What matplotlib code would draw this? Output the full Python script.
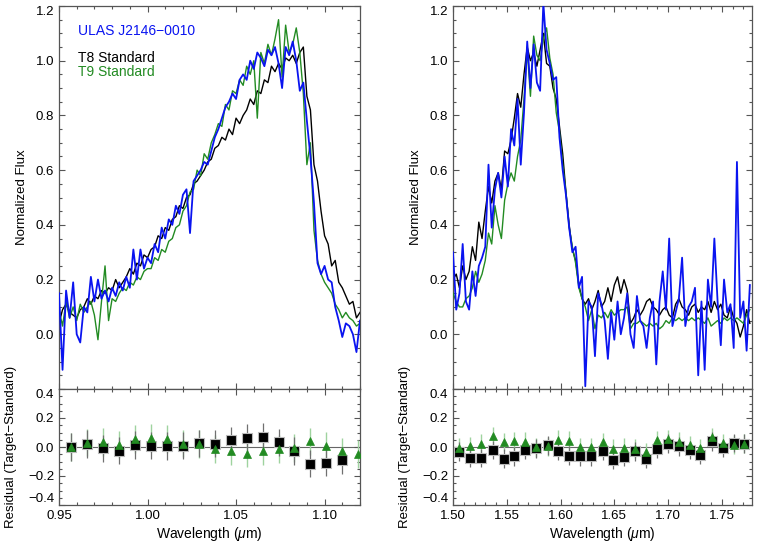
import numpy as np
import matplotlib
matplotlib.use("Agg")
import matplotlib.pyplot as plt
from matplotlib.ticker import MultipleLocator, FormatStrFormatter

plt.rcParams['font.family'] = ['Liberation Sans', 'DejaVu Sans']
plt.rcParams['mathtext.fontset'] = 'custom'
plt.rcParams['mathtext.rm'] = 'Liberation Sans'
plt.rcParams['mathtext.it'] = 'Liberation Sans:italic'

# ---------------- data: left panel (0.95-1.12 um) ----------------
wl_left_start, wl_left_step = 0.950, 0.002
target_left = [0.15, -0.13, 0.16, 0.06, 0.19, 0.00, -0.03, 0.10, 0.08, 0.21,
               0.12, 0.20, 0.13, 0.16, 0.12, 0.17, 0.14, 0.19, 0.16, 0.21,
               0.17, 0.31, 0.20, 0.31, 0.24, 0.28, 0.26, 0.33, 0.30, 0.39,
               0.35, 0.42, 0.40, 0.47, 0.44, 0.51, 0.53, 0.37, 0.56, 0.58,
               0.60, 0.63, 0.62, 0.67, 0.72, 0.75, 0.79, 0.83, 0.85, 0.88,
               0.86, 0.93, 0.95, 0.93, 1.00, 0.97, 1.03, 1.01, 0.98, 1.04,
               1.02, 1.05, 0.99, 0.90, 1.05, 1.02, 1.07, 1.00, 0.89, 0.92,
               0.78, 0.65, 0.48, 0.26, 0.22, 0.25, 0.20, 0.19, 0.10, 0.05,
               -0.01, 0.04, 0.03, 0.00, -0.065, 0.05]
t8_left = [0.04, 0.09, 0.11, 0.08, 0.07, 0.06, 0.09, 0.10, 0.13, 0.11,
           0.14, 0.13, 0.16, 0.15, 0.17, 0.16, 0.20, 0.17, 0.19, 0.21,
           0.24, 0.22, 0.26, 0.25, 0.29, 0.28, 0.31, 0.32, 0.36, 0.35,
           0.39, 0.38, 0.42, 0.43, 0.47, 0.46, 0.50, 0.51, 0.55, 0.56,
           0.58, 0.60, 0.63, 0.64, 0.68, 0.69, 0.72, 0.71, 0.75, 0.73,
           0.79, 0.77, 0.80, 0.82, 0.86, 0.84, 0.89, 0.88, 0.93, 0.92,
           0.98, 0.96, 0.99, 0.97, 1.01, 1.00, 1.02, 0.99, 1.03, 1.05,
           0.87, 0.82, 0.62, 0.56, 0.45, 0.36, 0.33, 0.25, 0.27, 0.19,
           0.17, 0.14, 0.11, 0.12, 0.06, 0.08]
t9_left = [0.09, 0.03, 0.12, 0.06, 0.10, 0.05, 0.11, 0.08, 0.10, 0.12,
           0.07, -0.02, 0.12, 0.25, 0.05, 0.13, 0.12, 0.15, 0.17, 0.16,
           0.19, 0.18, 0.21, 0.20, 0.23, 0.24, 0.24, 0.28, 0.27, 0.31,
           0.30, 0.34, 0.35, 0.39, 0.40, 0.45, 0.47, 0.52, 0.53, 0.60,
           0.58, 0.66, 0.64, 0.70, 0.73, 0.77, 0.76, 0.84, 0.82, 0.89,
           0.88, 0.93, 0.91, 0.98, 0.95, 1.00, 0.79, 1.03, 0.99, 1.06,
           1.02, 1.08, 1.15, 0.94, 1.13, 1.03, 1.06, 1.12, 1.03, 0.88,
           0.62, 0.70, 0.38, 0.27, 0.22, 0.19, 0.17, 0.15, 0.11, 0.09,
           0.06, 0.08, 0.06, 0.05, 0.03, 0.04]

# ---------------- data: right panel (1.50-1.78 um) ----------------
wl_right_start, wl_right_step = 1.500, 0.003
target_right = [0.30, 0.09, 0.15, 0.33, 0.12, 0.09, 0.23, 0.14, 0.25, 0.28,
                0.32, 0.62, 0.39, 0.53, 0.59, 0.50, 0.65, 0.54, 0.75, 0.69,
                0.86, 0.62, 0.81, 1.07, 0.90, 1.06, 0.92, 0.89, 1.21, 1.04,
                0.99, 0.93, 0.94, 0.72, 0.60, 0.51, 0.39, 0.30, 0.32, 0.17,
                0.21, -0.19, 0.12, 0.10, -0.08, 0.15, 0.11, 0.05, -0.09, 0.08,
                -0.02, 0.12, 0.00, 0.06, 0.15, 0.00, -0.05, 0.14, 0.05, 0.03,
                -0.05, 0.06, 0.12, -0.11, 0.12, 0.23, 0.09, 0.35, 0.03, 0.08,
                0.13, 0.28, 0.03, 0.10, 0.12, 0.17, -0.15, 0.12, -0.13, 0.20,
                0.10, 0.35, 0.12, -0.04, 0.20, 0.08, 0.11, -0.05, 0.63, 0.06,
                0.12, -0.06, 0.18]
t8_right = [0.20, 0.22, 0.17, 0.25, 0.20, 0.23, 0.32, 0.27, 0.41, 0.35,
            0.45, 0.54, 0.48, 0.56, 0.59, 0.53, 0.67, 0.66, 0.71, 0.79,
            0.88, 0.83, 0.95, 1.05, 1.00, 1.03, 0.98, 1.04, 1.10, 0.99,
            0.98, 0.90, 0.86, 0.76, 0.66, 0.52, 0.40, 0.31, 0.27, 0.18,
            0.13, 0.11, 0.13, 0.09, 0.12, 0.16, 0.10, 0.12, 0.17, 0.12,
            0.18, 0.21, 0.15, 0.20, 0.16, 0.04, 0.06, 0.09, 0.07, 0.09,
            0.12, 0.13, 0.10, 0.09, 0.07, 0.09, 0.10, 0.07, 0.06, 0.11,
            0.13, 0.10, 0.09, 0.07, 0.10, 0.11, 0.08, 0.10, 0.09, 0.12,
            0.08, 0.12, 0.09, 0.11, 0.07, 0.06, 0.10, 0.06, 0.04, -0.01,
            0.03, 0.09, 0.04]
t9_right = [0.15, 0.12, 0.10, 0.10, 0.13, 0.14, 0.17, 0.23, 0.19, 0.22,
            0.27, 0.37, 0.33, 0.47, 0.40, 0.35, 0.49, 0.55, 0.59, 0.56,
            0.65, 0.71, 0.86, 1.04, 0.87, 1.09, 1.02, 1.00, 1.08, 1.12,
            1.01, 0.95, 0.81, 0.74, 0.62, 0.52, 0.39, 0.32, 0.26, 0.17,
            0.13, 0.10, 0.05, 0.09, 0.02, 0.07, 0.06, 0.08, 0.06, 0.09,
            0.07, 0.08, 0.09, 0.09, 0.10, 0.02, 0.04, 0.04, 0.05, 0.04,
            0.03, 0.04, 0.03, 0.04, 0.02, 0.03, 0.05, 0.04, 0.06, 0.05,
            0.06, 0.05, 0.06, 0.05, 0.06, 0.05, 0.06, 0.05, 0.04, 0.06,
            0.03, 0.04, 0.05, 0.04, 0.06, 0.05, 0.06, 0.05, 0.06, 0.05,
            0.04, 0.07, 0.09]

# ---------------- residuals ----------------
res_wl_left = [0.957, 0.966, 0.975, 0.984, 0.993, 1.002, 1.011, 1.020, 1.029, 1.038,
               1.047, 1.056, 1.065, 1.074, 1.083, 1.092, 1.101, 1.110, 1.119]
res_t8_left = [0.00, 0.02, -0.01, -0.025, 0.015, 0.01, 0.007, 0.01, 0.025, 0.023,
               0.046, 0.062, 0.069, 0.032, -0.028, -0.115, -0.108, -0.092, np.nan]
res_t9_left = [0.00, 0.03, 0.035, 0.016, 0.057, 0.062, 0.057, 0.023, 0.02, -0.012,
               -0.028, -0.046, -0.03, -0.014, -0.005, 0.039, 0.01, -0.03, -0.05]
res_err_left = 0.095

res_wl_right = [1.506, 1.516, 1.526, 1.537, 1.547, 1.557, 1.567, 1.577, 1.588, 1.598,
                1.608, 1.618, 1.628, 1.639, 1.649, 1.659, 1.669, 1.679, 1.690, 1.700,
                1.710, 1.720, 1.730, 1.741, 1.751, 1.761, 1.771]
res_t8_right = [-0.032, -0.076, -0.076, -0.021, -0.080, -0.064, -0.021, -0.009, 0.011, -0.025,
                -0.060, -0.064, -0.064, -0.028, -0.087, -0.069, -0.030, -0.080, -0.011, 0.023,
                0.005, -0.021, -0.053, 0.039, -0.007, 0.028, 0.023]
res_t9_right = [-0.005, 0.005, 0.023, 0.074, 0.035, 0.041, 0.037, -0.002, 0.005, 0.050,
                0.044, 0.000, -0.002, 0.035, -0.011, -0.005, -0.011, -0.034, 0.046, 0.055,
                0.037, 0.014, -0.009, 0.069, 0.028, 0.016, 0.023]
res_err_right = 0.065

BLUE = '#0a14f0'
GREEN = '#228b22'
AXC = '#555555'
TICK_FS = 9.5
LABEL_FS = 9.5

fig = plt.figure(figsize=(7.61, 5.48), dpi=100)
W, H = 761.0, 548.0

def axes_px(x0, x1, y0, y1):
    return fig.add_axes([x0 / W, 1 - y1 / H, (x1 - x0) / W, (y1 - y0) / H])

def style(ax, xmaj, xmin, ymaj, ymin):
    ax.xaxis.set_major_locator(MultipleLocator(xmaj))
    ax.xaxis.set_minor_locator(MultipleLocator(xmin))
    ax.yaxis.set_major_locator(MultipleLocator(ymaj))
    ax.yaxis.set_minor_locator(MultipleLocator(ymin))
    ax.tick_params(which='both', direction='in', top=True, right=True,
                   color=AXC, labelsize=TICK_FS, width=0.8)
    ax.tick_params(which='major', length=4.5)
    ax.tick_params(which='minor', length=2.5)
    for s in ax.spines.values():
        s.set_color(AXC)
        s.set_linewidth(0.9)

panels = [
    dict(x0=59, x1=360, wl0=wl_left_start, dwl=wl_left_step,
         tgt=target_left, t8=t8_left, t9=t9_left, xlim=(0.95, 1.12),
         rwl=res_wl_left, r8=res_t8_left, r9=res_t9_left, rerr=res_err_left,
         legend=True),
    dict(x0=453, x1=752, wl0=wl_right_start, dwl=wl_right_step,
         tgt=target_right, t8=t8_right, t9=t9_right, xlim=(1.50, 1.778),
         rwl=res_wl_right, r8=res_t8_right, r9=res_t9_right, rerr=res_err_right,
         legend=False),
]

for p in panels:
    n = len(p['tgt'])
    wl = p['wl0'] + p['dwl'] * np.arange(n)
    ax = axes_px(p['x0'], p['x1'], 6, 389)
    ax.plot(wl, p['t8'], color='black', lw=1.0, zorder=2)
    ax.plot(wl, p['t9'], color=GREEN, lw=1.0, zorder=3)
    ax.plot(wl, p['tgt'], color=BLUE, lw=1.3, zorder=4)
    ax.set_xlim(*p['xlim'])
    ax.set_ylim(-0.2, 1.2)
    style(ax, 0.05, 0.01, 0.2, 0.05)
    ax.set_yticks([0.0, 0.2, 0.4, 0.6, 0.8, 1.0, 1.2])
    ax.set_yticklabels(['0.0', '0.2', '0.4', '0.6', '0.8', '1.0', '1.2'])
    ax.get_yticklabels()[-1].set_va('top')
    ax.tick_params(axis='x', labelbottom=False)
    ax.set_ylabel('Normalized Flux', fontsize=LABEL_FS)
    ax.yaxis.set_label_coords(-0.104, 0.5)
    if p['legend']:
        ax.text(0.062, 0.935, 'ULAS J2146\u22120010', color=BLUE, fontsize=10,
                transform=ax.transAxes, va='center')
        ax.text(0.062, 0.865, 'T8 Standard', color='black', fontsize=10,
                transform=ax.transAxes, va='center')
        ax.text(0.062, 0.828, 'T9 Standard', color=GREEN, fontsize=10,
                transform=ax.transAxes, va='center')

    ra = axes_px(p['x0'], p['x1'], 389, 505)
    ra.axhline(0.0, color='#666666', lw=0.8, zorder=1)
    ra.errorbar(p['rwl'], p['r9'], yerr=p['rerr'], fmt='none',
                ecolor='#9fd39f', elinewidth=1.0, zorder=2)
    ra.errorbar(p['rwl'], p['r8'], yerr=p['rerr'], fmt='none',
                ecolor='#707070', elinewidth=0.9, zorder=3)
    ra.plot(p['rwl'], p['r8'], ls='none', marker='s', ms=6.5, mfc='black',
            mec='#bbbbbb', mew=0.8, zorder=4)
    ra.plot(p['rwl'], p['r9'], ls='none', marker='^', ms=6.0, mfc=GREEN,
            mec=GREEN, mew=0.5, zorder=5)
    ra.set_xlim(*p['xlim'])
    ra.set_ylim(-0.4, 0.4)
    style(ra, 0.05, 0.01, 0.2, 0.05)
    ra.set_yticks([-0.4, -0.2, 0.0, 0.2, 0.4])
    ra.set_yticklabels(['\u22120.4', '\u22120.2', '0.0', '0.2', '0.4'])
    labs = ra.get_yticklabels()
    labs[0].set_va('bottom')
    labs[-1].set_va('top')
    ra.xaxis.set_major_formatter(FormatStrFormatter('%.2f'))
    ra.set_ylabel('Residual (Target\u2212Standard)', fontsize=LABEL_FS)
    ra.yaxis.set_label_coords(-0.14, 0.5)
    ra.set_xlabel('Wavelength ($\\mu$m)', fontsize=10, labelpad=2)

fig.savefig('out.png', dpi=100)
